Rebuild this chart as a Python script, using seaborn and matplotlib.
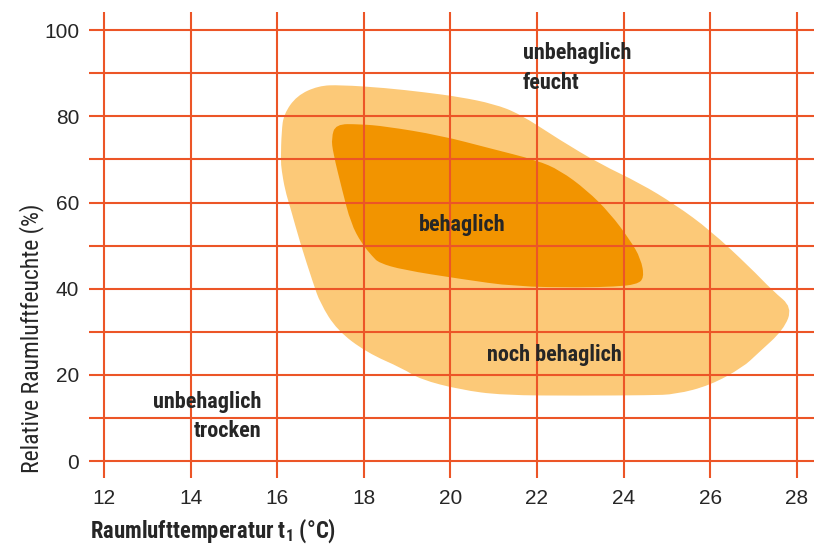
"""Behaglichkeitsfeld: Raumlufttemperatur vs. relative Raumluftfeuchte."""

import matplotlib
matplotlib.use("Agg")
import matplotlib.pyplot as plt
import numpy as np
import pandas as pd
import seaborn as sns
from matplotlib.patches import PathPatch
from matplotlib.path import Path

# outline of "noch behaglich" (temperature in degC, relative humidity in %)
outer_temp = [16.08, 16.10, 16.15, 16.45, 16.95, 17.45, 18.50, 19.40, 20.22,
              21.00, 21.60, 22.53, 23.45, 24.38, 25.20, 26.00, 26.92, 27.45, 27.90,
              27.70, 27.10, 26.76, 26.00, 25.20, 24.60, 23.00, 21.20, 20.22,
              19.30, 18.90, 18.07, 17.38, 16.99, 16.83, 16.53, 16.30, 16.18, 16.10]
outer_rh = [70.0, 76.5, 80.5, 84.8, 87.1, 87.3, 86.6, 85.6, 84.5,
            82.9, 80.6, 74.5, 69.0, 64.5, 59.5, 53.6, 45.0, 39.5, 35.7,
            30.5, 25.0, 21.8, 17.6, 15.5, 15.3, 15.2, 15.3, 16.6,
            19.0, 21.5, 25.2, 30.4, 36.7, 41.3, 50.6, 58.9, 62.9, 67.5]

# outline of "behaglich"
inner_temp = [17.25, 17.35, 17.90, 18.50, 19.76, 20.91, 22.00, 22.53, 23.15, 23.69,
              24.15, 24.40, 24.48, 24.30, 23.80, 23.00, 21.50, 20.22, 18.90,
              18.35, 18.20, 17.95, 17.70, 17.50, 17.29]
inner_rh = [75.0, 78.2, 78.2, 77.7, 75.6, 72.6, 69.8, 67.5, 62.9, 57.5,
            51.3, 47.0, 42.5, 41.0, 40.5, 40.3, 40.5, 42.3, 44.4,
            46.0, 47.5, 50.5, 55.2, 62.9, 71.5]

temp_ticks = [12, 14, 16, 18, 20, 22, 24, 26, 28]
rh_ticks = [0, 20, 40, 60, 80, 100]
rh_minor = [10, 30, 50, 70, 90]

zone_labels = ["unbehaglich\nfeucht", "behaglich", "noch behaglich", "unbehaglich\ntrocken"]

GRID = "#EC5527"
LIGHT = "#FCC978"
DARK = "#F29400"
TEXT = "#262626"
COND = ["Roboto Condensed", "Roboto", "DejaVu Sans"]


def smooth_patch(df: pd.DataFrame, color: str, zorder: int) -> PathPatch:
    # closed outline drawn with quadratic curves, the listed points act as control points
    pts = df[["temp", "rh"]].to_numpy()
    mids = (pts + np.roll(pts, -1, axis=0)) / 2
    verts = [mids[-1]]
    codes = [Path.MOVETO]
    for p, m in zip(pts, mids):
        verts += [p, m]
        codes += [Path.CURVE3, Path.CURVE3]
    verts.append(mids[-1])
    codes.append(Path.CLOSEPOLY)
    return PathPatch(Path(verts, codes), facecolor=color, lw=0, zorder=zorder)


def main() -> None:
    sns.set_theme(style="white")
    plt.rcParams["font.family"] = ["Liberation Sans", "DejaVu Sans"]

    outer = pd.DataFrame({"temp": outer_temp, "rh": outer_rh})
    inner = pd.DataFrame({"temp": inner_temp, "rh": inner_rh})

    fig = plt.figure(figsize=(8.14, 5.49), dpi=100)
    ax = fig.add_axes([0.1093, 0.1293, 0.8907, 0.8487])

    ax.add_patch(smooth_patch(outer, LIGHT, 1))
    ax.add_patch(smooth_patch(inner, DARK, 2))

    ax.set_xlim(11.65, 28.4)
    ax.set_ylim(-3.9, 104.2)
    ax.set_xticks(temp_ticks)
    ax.set_yticks(rh_ticks)
    ax.set_yticks(rh_minor, minor=True)
    ax.set_axisbelow(False)
    ax.grid(True, which="both", color=GRID, lw=1.5)
    ax.tick_params(axis="both", which="both", length=0, labelsize=15, colors=TEXT)
    ax.tick_params(axis="y", pad=7)
    ax.tick_params(axis="x", pad=8)
    sns.despine(ax=ax, left=True, bottom=True)

    kw = dict(family=COND, weight="bold", fontsize=16, color=TEXT, zorder=5,
              linespacing=1.45)
    ax.text(21.68, 97.2, zone_labels[0], ha="left", va="top", **kw)
    ax.text(20.27, 54.8, zone_labels[1], ha="center", va="center", **kw)
    ax.text(22.4, 24.6, zone_labels[2], ha="center", va="center", **kw)
    ax.text(15.63, 16.4, zone_labels[3], ha="right", va="top", multialignment="right", **kw)

    fig.text(0.110, 0.008, r"Raumlufttemperatur t$_\mathregular{1}$ (°C)", ha="left",
             va="bottom", family=COND, weight="bold", fontsize=16.3, color=TEXT)
    fig.text(0.024, 0.138, "Relative Raumluftfeuchte (%)", rotation=90, ha="left",
             va="bottom", family=COND, weight="normal", fontsize=17, color=TEXT)

    fig.savefig("out.png", dpi=100)
    plt.close(fig)


if __name__ == "__main__":
    main()
